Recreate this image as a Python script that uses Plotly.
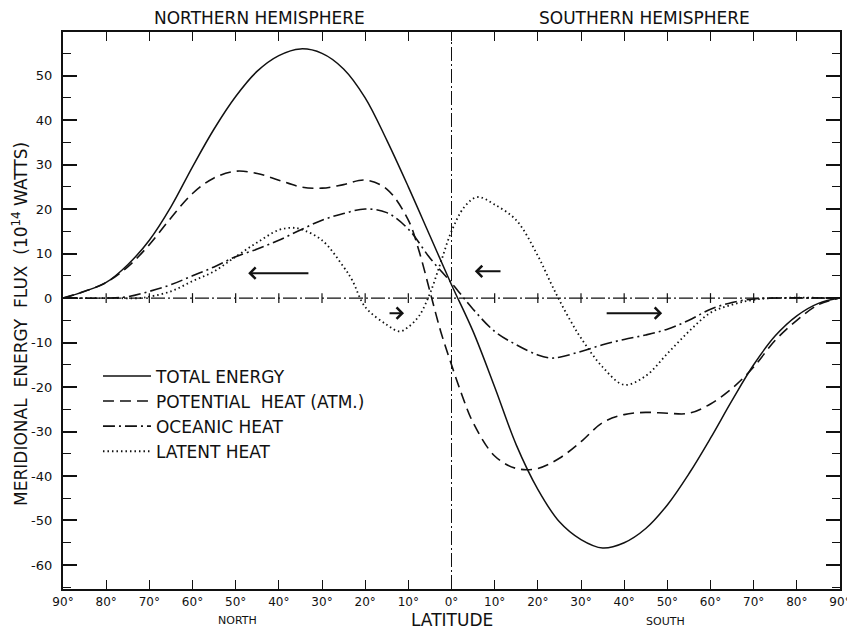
import plotly.graph_objects as go

# ── 資料（由圖讀取，北緯為正、南緯為負）──
lat_total = [90, 85, 80, 75, 70, 65, 60, 55, 50, 45, 40, 35, 30, 25, 20, 15, 10, 5, 0,
             -5, -10, -15, -20, -25, -30, -35, -40, -45, -50, -55, -60, -65, -70, -75, -80, -85, -90]
total_energy = [0, 1.5, 3.5, 7.5, 13, 20.5, 29.5, 38, 45.3, 51, 54.5, 56, 55, 51.5, 45, 35.5, 25, 14, 3,
                -7.5, -20, -33, -43, -50.3, -54.3, -56.2, -55, -51.8, -46.5, -39.5, -31.5, -23, -15, -8.5, -4, -1.2, 0]

lat_pot = [90, 85, 80, 75, 70, 65, 60, 55, 50, 45, 40, 35, 30, 25, 20, 15, 10, 7.5, 5, 2.5, 0,
           -2.5, -5, -10, -15, -20, -25, -30, -35, -40, -45, -50, -55, -60, -65, -70, -75, -80, -85, -90]
potential_heat = [0, 1.5, 3.5, 7, 12, 18, 23.5, 27, 28.5, 28, 26.5, 25, 24.7, 25.5, 26.5, 24.5, 17.5, 10.5, 1.5, -7.5, -15,
                  -22, -28, -35.5, -38.3, -38.3, -36, -32.3, -28, -26.2, -25.7, -25.9, -25.9, -23.8, -20.3, -15.5, -9.5, -5, -1.5, 0]

lat_ocean = [90, 80, 75, 70, 65, 60, 55, 50, 45, 40, 35, 30, 25, 20, 15, 10, 5, 0,
             -5, -10, -15, -20, -23, -25, -30, -35, -40, -45, -50, -55, -60, -65, -70, -75, -90]
oceanic_heat = [0, 0, 0.3, 1.5, 3, 5, 7, 9.3, 11, 13, 15.3, 17.5, 19, 20, 19.2, 15.5, 9, 3.4,
                -2.5, -7.5, -10.5, -12.8, -13.5, -13.3, -12, -10.5, -9.3, -8.3, -7, -5, -2.5, -1, -0.2, 0, 0]

lat_latent = [90, 80, 72, 70, 65, 60, 55, 50, 45, 40, 37, 35, 30, 25, 23, 20, 15, 12, 10, 7.5, 5, 2.5, 0,
              -3, -6, -10, -15, -20, -23, -25, -27.5, -30, -35, -40, -45, -50, -55, -60, -65, -70, -75, -90]
latent_heat = [0, 0, 0, 0.3, 1.5, 3.8, 6, 9.3, 12.5, 15.3, 15.8, 15.5, 13, 7, 4, -2, -6, -7.5, -6.5, -4, 1, 8, 15,
               20.5, 22.7, 21, 17.5, 9.5, 3.4, -0.5, -5, -9, -15.5, -19.5, -17.5, -12.5, -7.5, -3.3, -1.5, -0.4, 0, 0]

# 緯度刻度
lat_ticks = [90, 80, 70, 60, 50, 40, 30, 20, 10, 0, -10, -20, -30, -40, -50, -60, -70, -80, -90]
lat_tick_text = ['90°', '80°', '70°', '60°', '50°', '40°', '30°', '20°', '10°', '0°',
                 '10°', '20°', '30°', '40°', '50°', '60°', '70°', '80°', '90°']
flux_ticks = [50, 40, 30, 20, 10, 0, -10, -20, -30, -40, -50, -60]
flux_tick_text = ['50', '40', '30', '20', '10', '0', '-10', '-20', '-30', '-40', '-50', '-60']

# 熱通量方向箭頭 (尾端緯度, 箭頭緯度, 通量值)
flux_arrows = [(32.8, 47.1, 5.6), (14.7, 11.0, -3.4), (-11.7, -5.4, 6), (-35.6, -48.8, -3.4)]

FONT = 'DejaVu Sans'
INK = '#111111'

fig = go.Figure()

fig.add_trace(go.Scatter(
    x=lat_total, y=total_energy, mode='lines', line_shape='spline',
    line=dict(color=INK, width=1.5), name='TOTAL ENERGY',
))
fig.add_trace(go.Scatter(
    x=lat_pot, y=potential_heat, mode='lines', line_shape='spline',
    line=dict(color=INK, width=1.6, dash='11px,6px'), name='POTENTIAL  HEAT (ATM.)',
))
fig.add_trace(go.Scatter(
    x=lat_ocean, y=oceanic_heat, mode='lines', line_shape='spline',
    line=dict(color=INK, width=1.6, dash='12px,4px,2px,4px'), name='OCEANIC HEAT',
))
fig.add_trace(go.Scatter(
    x=lat_latent, y=latent_heat, mode='lines', line_shape='spline',
    line=dict(color=INK, width=1.8, dash='1.5px,3px'), name='LATENT HEAT',
))

# 零線上的小刻度
fig.add_trace(go.Scatter(
    x=lat_ticks[1:-1], y=[0] * (len(lat_ticks) - 2), mode='markers',
    marker=dict(symbol='line-ns', size=7, line=dict(color=INK, width=1.2)),
    showlegend=False, hoverinfo='skip',
))

# 零線（點劃線）
fig.add_shape(type='line', xref='x', yref='y', x0=90, x1=-90, y0=0, y1=0,
              line=dict(color=INK, width=1.2, dash='14px,3px,2px,3px'))
fig.add_shape(type='line', xref='x', yref='paper', x0=0, x1=0, y0=0, y1=1,
              line=dict(color=INK, width=1, dash='14px,3px,2px,3px'))

for tail, head, val in flux_arrows:
    fig.add_annotation(x=head, y=val, ax=tail, ay=val, xref='x', yref='y', axref='x', ayref='y',
                       text='', showarrow=True, arrowhead=4, arrowsize=1.1, arrowwidth=2, arrowcolor=INK)

# 文字標註
def label(text, x, y, size, angle=0):
    fig.add_annotation(text=text, xref='paper', yref='paper', x=x, y=y, textangle=angle,
                       showarrow=False, xanchor='center', yanchor='middle',
                       font=dict(family=FONT, size=size, color=INK))

label('NORTHERN HEMISPHERE', 0.2535, 1.025, 17)
label('SOUTHERN HEMISPHERE', 0.748, 1.025, 17)
label('NORTH', 0.224, -0.056, 11)
label('SOUTH', 0.775, -0.059, 11)
label('LATITUDE', 0.5006, -0.0557, 17)
label('MERIDIONAL  ENERGY  FLUX  (10<sup>14</sup> WATTS)', -0.0553, 0.476, 17, angle=-90)

fig.update_xaxes(
    range=[90, -90], tickvals=lat_ticks, ticktext=lat_tick_text,
    ticks='inside', ticklen=9, tickwidth=1.2, tickcolor=INK,
    showline=True, linewidth=2.2, linecolor=INK, mirror='ticks',
    showgrid=False, zeroline=False, automargin=False,
    tickfont=dict(family=FONT, size=12, color=INK),
)
fig.update_yaxes(
    range=[-65.4, 59.8], tickvals=flux_ticks, ticktext=flux_tick_text,
    ticks='inside', ticklen=14, tickwidth=1.5, tickcolor=INK,
    minor=dict(ticks='inside', dtick=5, tick0=0, ticklen=8, tickwidth=1.2, tickcolor=INK),
    showline=True, linewidth=2.2, linecolor=INK, mirror='ticks',
    showgrid=False, zeroline=False, automargin=False, ticklabelstandoff=6,
    tickfont=dict(family=FONT, size=13, color=INK),
)

# 頁面 body 有 8px 邊距，故圖面縮小並調整邊界
fig.update_layout(
    width=847, height=625,
    margin=dict(l=55, r=15, t=24, b=44),
    plot_bgcolor='white', paper_bgcolor='white',
    font=dict(family=FONT, color=INK),
    legend=dict(x=0.045, y=0.414, xanchor='left', yanchor='top', bgcolor='rgba(0,0,0,0)',
                font=dict(family=FONT, size=17, color=INK), itemwidth=48, tracegroupgap=0),
    showlegend=True,
)

fig.write_html("out.html")
